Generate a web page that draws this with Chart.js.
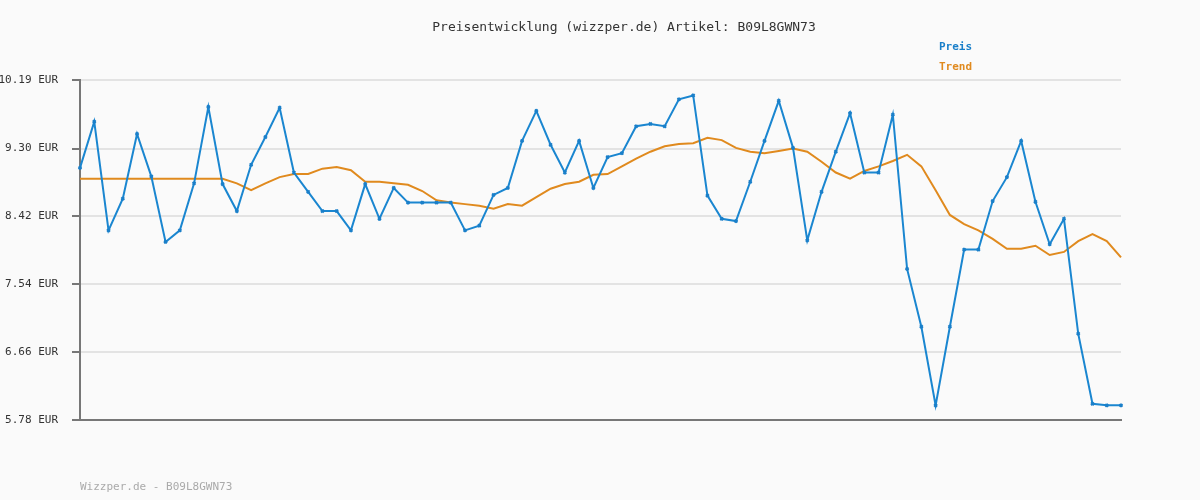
<!DOCTYPE html>
<html lang="en">
  <head>
    <meta charset="UTF-8" />
    <title>Preisentwicklung B09L8GWN73</title>
    <script src="https://cdn.jsdelivr.net/npm/chart.js"></script>
    <style>
      body { margin: 0; background: #fafafa; }
      #wrap { width: 1200px; height: 500px; }
    </style>
  </head>
  <body>
    <div id="wrap"><canvas id="priceChart" width="1200" height="500"></canvas></div>
    <script>
      // Prices
      const preis = [
        9.05, 9.65, 8.24, 8.65, 9.49, 8.94, 8.09, 8.24, 8.85, 9.84,
        8.84, 8.49, 9.09, 9.45, 9.83, 8.99, 8.74, 8.49, 8.49, 8.24,
        8.84, 8.39, 8.79, 8.60, 8.60, 8.60, 8.60, 8.24, 8.30, 8.70,
        8.79, 9.40, 9.79, 9.35, 8.99, 9.40, 8.79, 9.19, 9.24, 9.59,
        9.62, 9.59, 9.94, 9.99, 8.69, 8.39, 8.36, 8.87, 9.40, 9.92,
        9.31, 8.11, 8.74, 9.26, 9.76, 8.99, 8.99, 9.74, 7.74, 6.99,
        5.97, 6.99, 7.99, 7.99, 8.62, 8.93, 9.40, 8.61, 8.06, 8.39,
        6.90, 5.99, 5.97, 5.97
      ];
      const trend = [
        8.91, 8.91, 8.91, 8.91, 8.91, 8.91, 8.91, 8.91, 8.91, 8.91,
        8.91, 8.85, 8.76, 8.85, 8.93, 8.97, 8.97, 9.04, 9.06, 9.02,
        8.87, 8.87, 8.85, 8.83, 8.75, 8.63, 8.60, 8.58, 8.56, 8.52,
        8.58, 8.56, 8.67, 8.78, 8.84, 8.87, 8.96, 8.97, 9.07, 9.17,
        9.26, 9.33, 9.36, 9.37, 9.44, 9.41, 9.31, 9.26, 9.24, 9.27,
        9.30, 9.26, 9.13, 8.99, 8.91, 9.01, 9.07, 9.14, 9.22, 9.07,
        8.76, 8.44, 8.32, 8.24, 8.13, 8.00, 8.00, 8.04, 7.92, 7.96,
        8.10, 8.19, 8.10, 7.89, 7.69
      ].slice(0, 74);
      const labels = preis.map((_, i) => i + 1);
      const yTicks = [5.78, 6.66, 7.54, 8.42, 9.30, 10.19];

      const mono = "'DejaVu Sans Mono', monospace";

      // title, legend and footer drawn as plain text
      const textPlugin = {
        id: "texts",
        afterDraw(chart) {
          const c = chart.ctx;
          c.save();
          c.textBaseline = "middle";
          c.font = "13px " + mono;
          c.fillStyle = "#333";
          c.textAlign = "center";
          c.fillText("Preisentwicklung (wizzper.de) Artikel: B09L8GWN73", 624, 28);
          c.textAlign = "left";
          c.font = "bold 11px " + mono;
          c.fillStyle = "#1a7fc9";
          c.fillText("Preis", 939, 47);
          c.fillStyle = "#e08a1e";
          c.fillText("Trend", 939, 67);
          c.font = "11px " + mono;
          c.fillStyle = "#aaa";
          c.fillText("Wizzper.de - B09L8GWN73", 80, 487);
          c.restore();
        },
      };

      new Chart(document.getElementById("priceChart"), {
        type: "line",
        data: {
          labels: labels,
          datasets: [
            {
              label: "Preis",
              data: preis,
              borderColor: "#1a86d0",
              backgroundColor: "#1a7fc9",
              borderWidth: 2,
              pointStyle: "crossRot",
              pointRadius: 2,
              pointBorderWidth: 2,
              pointBorderColor: "#1a7fc9",
              tension: 0,
            },
            {
              label: "Trend",
              data: trend,
              borderColor: "#e08a1e",
              borderWidth: 2,
              pointRadius: 0,
              tension: 0,
            },
          ],
        },
        options: {
          responsive: false,
          animation: false,
          layout: { padding: { top: 80, right: 79, bottom: 0, left: 0 } },
          plugins: { legend: { display: false }, tooltip: { enabled: false } },
          scales: {
            x: {
              ticks: { display: false },
              grid: { display: false },
              border: { color: "#777", width: 2 },
              afterFit(s) { s.height = 80; },
            },
            y: {
              min: 5.78,
              max: 10.19,
              afterBuildTicks(s) { s.ticks = yTicks.map((v) => ({ value: v })); },
              afterFit(s) { s.width = 80; },
              ticks: {
                color: "#333",
                font: { family: mono, size: 11 },
                padding: 14,
                callback: (v) => v.toFixed(2) + " EUR",
              },
              grid: { color: "#e3e3e3", lineWidth: 2, drawTicks: true, tickLength: 8, tickColor: "#777" },
              border: { color: "#777", width: 2 },
            },
          },
        },
        plugins: [textPlugin],
      });
    </script>
  </body>
</html>
